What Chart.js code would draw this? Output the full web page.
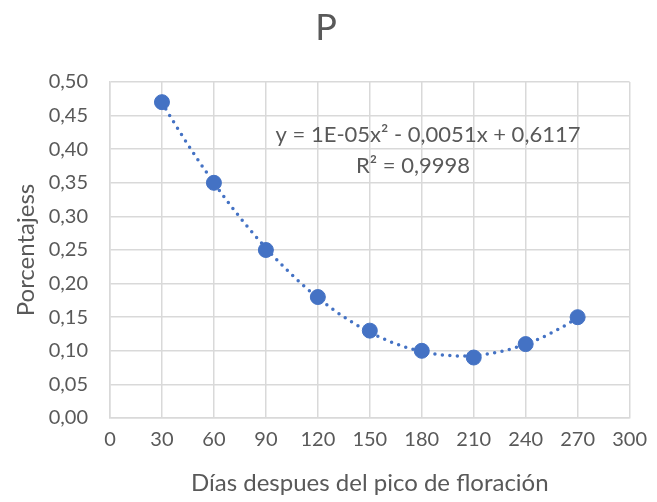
<!DOCTYPE html>
<html lang="es">
<head>
  <meta charset="UTF-8">
  <title>P</title>
  <script src="https://cdn.jsdelivr.net/npm/chart.js"></script>
  <style>
    html, body { margin: 0; padding: 0; background: #fff; }
    #wrap { width: 657px; height: 502px; }
  </style>
</head>
<body>
<div id="wrap"><canvas id="chart"></canvas></div>
<script>
  // datos
  const dias = [30, 60, 90, 120, 150, 180, 210, 240, 270];
  const porcentajes = [0.47, 0.35, 0.25, 0.18, 0.13, 0.10, 0.09, 0.11, 0.15];
  const ecuacion = 'y = 1E-05x² - 0,0051x + 0,6117';
  const r2 = 'R² = 0,9998';

  const azul = '#4472C4';
  const gris = '#595959';
  const fuente = 'Lato, "Open Sans", sans-serif';

  // ajuste polinomico de grado 2 (minimos cuadrados) sobre los datos
  function ajusteCuadratico(xs, ys) {
    let s = [0, 0, 0, 0, 0], t = [0, 0, 0];
    for (let i = 0; i < xs.length; i++) {
      let p = 1;
      for (let k = 0; k < 5; k++) { s[k] += p; if (k < 3) t[k] += p * ys[i]; p *= xs[i]; }
    }
    const A = [[s[0], s[1], s[2], t[0]], [s[1], s[2], s[3], t[1]], [s[2], s[3], s[4], t[2]]];
    for (let i = 0; i < 3; i++) {
      for (let j = i + 1; j < 3; j++) {
        const f = A[j][i] / A[i][i];
        for (let k = i; k < 4; k++) A[j][k] -= f * A[i][k];
      }
    }
    const c = [0, 0, 0];
    for (let i = 2; i >= 0; i--) {
      let v = A[i][3];
      for (let k = i + 1; k < 3; k++) v -= A[i][k] * c[k];
      c[i] = v / A[i][i];
    }
    return c; // c0 + c1 x + c2 x^2
  }
  const coef = ajusteCuadratico(dias, porcentajes);

  const tendencia = {
    id: 'tendencia',
    beforeDatasetsDraw(chart) {
      const ctx = chart.ctx, xs = chart.scales.x, ys = chart.scales.y;
      ctx.save();
      ctx.strokeStyle = azul;
      ctx.lineWidth = 3.5;
      ctx.lineCap = 'round';
      ctx.setLineDash([0, 7.5]);
      ctx.beginPath();
      const x0 = dias[0], x1 = dias[dias.length - 1];
      for (let i = 0; i <= 200; i++) {
        const x = x0 + (x1 - x0) * i / 200;
        const y = coef[0] + coef[1] * x + coef[2] * x * x;
        const px = xs.getPixelForValue(x), py = ys.getPixelForValue(y);
        if (i === 0) ctx.moveTo(px, py); else ctx.lineTo(px, py);
      }
      ctx.stroke();
      ctx.restore();
    },
    afterDraw(chart) {
      const ctx = chart.ctx;
      ctx.save();
      ctx.fillStyle = gris;
      ctx.textAlign = 'center';
      ctx.textBaseline = 'middle';
      ctx.font = '36px ' + fuente;
      ctx.fillText('P', 326, 28);
      ctx.font = '22px ' + fuente;
      ctx.fillText(ecuacion, 428, 135);
      ctx.fillText(r2, 413, 166);
      ctx.restore();
    }
  };

  new Chart(document.getElementById('chart'), {
    type: 'scatter',
    data: {
      datasets: [{
        label: 'P',
        data: dias.map((d, i) => ({ x: d, y: porcentajes[i] })),
        backgroundColor: azul,
        borderColor: azul,
        pointRadius: 7.5,
        pointHoverRadius: 7.5
      }]
    },
    options: {
      responsive: true,
      maintainAspectRatio: false,
      animation: false,
      layout: { padding: { top: 82, right: 21, left: 8, bottom: 0 } },
      plugins: { legend: { display: false }, tooltip: { enabled: false } },
      scales: {
        x: {
          type: 'linear',
          min: 0, max: 300,
          ticks: { stepSize: 30, color: gris, font: { family: fuente, size: 20 }, padding: 10 },
          grid: { color: '#d9d9d9', lineWidth: 1.5, drawTicks: false },
          border: { color: '#d9d9d9', width: 1.5 },
          title: { display: true, text: 'Días despues del pico de floración', color: gris, font: { family: fuente, size: 24 }, padding: { top: 4 } },
          afterFit(s) { s.height = 84; }
        },
        y: {
          min: 0, max: 0.5,
          ticks: {
            stepSize: 0.05, color: gris, font: { family: fuente, size: 20 }, padding: 22,
            callback: v => v.toFixed(2).replace('.', ',')
          },
          grid: { color: '#d9d9d9', lineWidth: 1.5, drawTicks: false },
          border: { color: '#d9d9d9', width: 1.5 },
          title: { display: true, text: 'Porcentajess', color: gris, font: { family: fuente, size: 24 }, padding: { bottom: 4 } },
          afterFit(s) { s.width = 102; }
        }
      }
    },
    plugins: [tendencia]
  });
</script>
</body>
</html>
